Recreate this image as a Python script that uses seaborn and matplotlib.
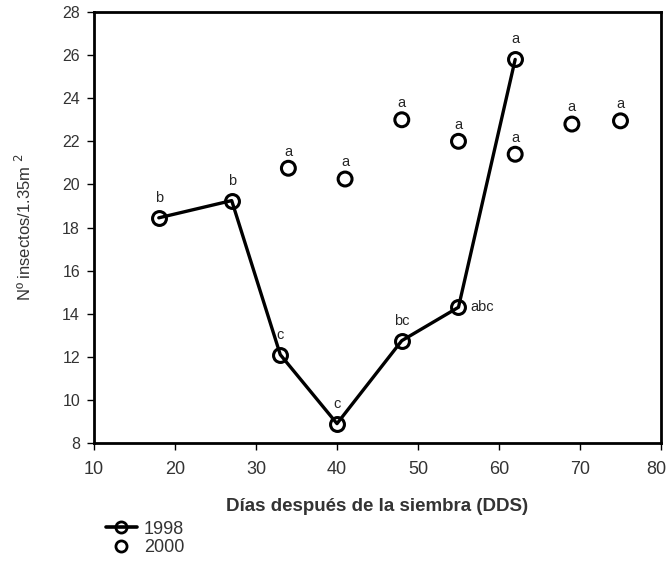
import numpy as np
import pandas as pd
import seaborn as sns
import matplotlib.pyplot as plt
import matplotlib.transforms as mtransforms
from matplotlib.lines import Line2D

# data
dias_1998 = [18, 27, 33, 40, 48, 55, 62]
ins_1998 = [18.45, 19.25, 12.1, 8.9, 12.75, 14.3, 25.8]
let_1998 = ["b", "b", "c", "c", "bc", "abc", "a"]

dias_2000 = [34, 41, 48, 55, 62, 69, 75]
ins_2000 = [20.75, 20.25, 23.0, 22.0, 21.4, 22.8, 22.95]
let_2000 = ["a", "a", "a", "a", "a", "a", "a"]

d98 = pd.DataFrame({"dds": dias_1998, "n": ins_1998})
d00 = pd.DataFrame({"dds": dias_2000, "n": ins_2000})

sns.set_style("white")
plt.rcParams["font.family"] = ["Liberation Sans", "DejaVu Sans"]

fig = plt.figure(figsize=(6.68, 5.64), dpi=100)
ax = fig.add_axes([0.1407, 0.2145, 0.8488, 0.7642])

sns.lineplot(data=d98, x="dds", y="n", ax=ax, color="black", lw=2.4,
             marker="o", markersize=10, markerfacecolor="none",
             markeredgecolor="black", markeredgewidth=2.2)
sns.scatterplot(data=d00, x="dds", y="n", ax=ax, marker="o", s=100,
                facecolor="none", edgecolor="black", linewidth=2.2)

for x, y, t in zip(dias_1998, ins_1998, let_1998):
    if t == "abc":
        ax.text(x + 1.5, y, t, fontsize=10.5, va="center", ha="left")
    else:
        ax.text(x, y + 0.6, t, fontsize=10.5, va="bottom", ha="center")
for x, y, t in zip(dias_2000, ins_2000, let_2000):
    ax.text(x, y + 0.45, t, fontsize=10.5, va="bottom", ha="center")

ax.set_xlim(10, 80)
ax.set_ylim(8, 28)
ax.set_xticks(range(10, 81, 10))
ax.set_yticks(range(8, 29, 2))
for s in ax.spines.values():
    s.set_color("black")
    s.set_linewidth(2)
ax.tick_params(axis="both", direction="out", length=5, width=1, color="black",
               labelcolor="#333333", left=True, bottom=True)
ax.tick_params(axis="y", labelsize=11.5, pad=5)
ax.tick_params(axis="x", labelsize=13, pad=8)
ax.set_xlabel("Días después de la siembra (DDS)", fontsize=13.5, fontweight="bold",
              color="#333333", labelpad=14)
ax.set_ylabel("Nº insectos/1.35m $^{2}$", fontsize=12, color="#333333", labelpad=20)

# last x label sits a bit left so it stays inside the picture
fig.canvas.draw()
lab80 = ax.get_xticklabels()[-1]
lab80.set_transform(lab80.get_transform() +
                    mtransforms.ScaledTranslation(-5 / 100, 0, fig.dpi_scale_trans))

h1 = Line2D([], [], color="black", lw=2.6, marker="o", markersize=8,
            markerfacecolor="none", markeredgewidth=2)
h2 = Line2D([], [], ls="none", marker="o", markersize=8,
            markerfacecolor="none", markeredgecolor="black", markeredgewidth=2)
fig.legend([h1, h2], ["1998", "2000"], loc="upper left",
           bbox_to_anchor=(0.145, 0.093), frameon=False, fontsize=13,
           handlelength=1.7, handletextpad=0.4, labelspacing=0.1,
           borderpad=0, labelcolor="#333333")

fig.savefig("out.png", dpi=100, facecolor="white")
